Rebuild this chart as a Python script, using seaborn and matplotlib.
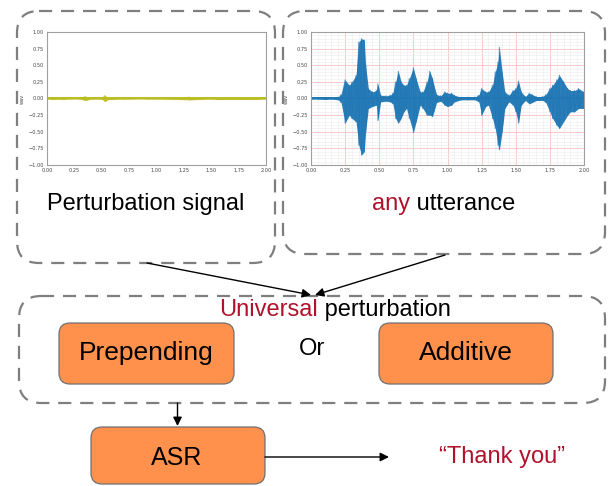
import matplotlib
matplotlib.use("Agg")
import matplotlib.pyplot as plt
from matplotlib.patches import FancyBboxPatch
from matplotlib.ticker import MultipleLocator, FuncFormatter
import seaborn as sns
import numpy as np

# waveform envelopes (time in s, amplitude)
utt_t = [0.00, 0.05, 0.10, 0.15, 0.20, 0.22, 0.25, 0.28, 0.30, 0.33, 0.35, 0.37, 0.39, 0.40,
         0.42, 0.45, 0.48, 0.49, 0.51, 0.55, 0.58, 0.60, 0.62, 0.64, 0.66, 0.68, 0.70, 0.72,
         0.75, 0.77, 0.80, 0.82, 0.85, 0.87, 0.89, 0.90, 0.92, 0.95, 0.98, 1.00, 1.03, 1.05,
         1.10, 1.15, 1.20, 1.23, 1.25, 1.28, 1.30, 1.33, 1.35, 1.37, 1.38, 1.40, 1.42, 1.45,
         1.48, 1.50, 1.52, 1.54, 1.57, 1.60, 1.62, 1.65, 1.70, 1.72, 1.75, 1.77, 1.80, 1.82,
         1.85, 1.88, 1.90, 1.93, 1.96, 2.00]
utt_up = [0.01, 0.01, 0.015, 0.01, 0.02, 0.06, 0.28, 0.20, 0.25, 0.35, 0.85, 0.90, 0.88, 0.50,
          0.15, 0.10, 0.12, 0.22, 0.05, 0.04, 0.05, 0.08, 0.25, 0.41, 0.25, 0.20, 0.20, 0.30,
          0.46, 0.30, 0.10, 0.10, 0.25, 0.41, 0.30, 0.20, 0.06, 0.04, 0.10, 0.08, 0.08, 0.05,
          0.02, 0.02, 0.02, 0.05, 0.15, 0.10, 0.10, 0.20, 0.40, 0.55, 0.77, 0.40, 0.10, 0.05,
          0.12, 0.15, 0.26, 0.10, 0.03, 0.08, 0.06, 0.03, 0.03, 0.06, 0.15, 0.20, 0.28, 0.35,
          0.25, 0.15, 0.12, 0.12, 0.15, 0.10]
utt_lo = [-0.01, -0.01, -0.015, -0.01, -0.02, -0.06, -0.37, -0.25, -0.30, -0.35, -0.70, -0.85, -0.80, -0.50,
          -0.15, -0.12, -0.10, -0.33, -0.05, -0.04, -0.05, -0.08, -0.30, -0.37, -0.30, -0.20, -0.15, -0.30,
          -0.51, -0.35, -0.10, -0.15, -0.25, -0.25, -0.27, -0.20, -0.06, -0.04, -0.10, -0.12, -0.10, -0.05,
          -0.02, -0.02, -0.02, -0.05, -0.25, -0.12, -0.10, -0.30, -0.45, -0.70, -0.77, -0.50, -0.15, -0.05,
          -0.10, -0.20, -0.37, -0.10, -0.03, -0.08, -0.06, -0.03, -0.03, -0.06, -0.20, -0.30, -0.40, -0.45,
          -0.35, -0.25, -0.20, -0.20, -0.15, -0.15]

pert_t = [0.00, 0.05, 0.10, 0.15, 0.20, 0.30, 0.35, 0.40, 0.50, 0.53, 0.56, 0.70, 0.90, 1.20,
          1.30, 1.50, 1.55, 1.75, 1.90, 2.00]
pert_up = [0.01, 0.015, 0.012, 0.015, 0.008, 0.01, 0.03, 0.01, 0.012, 0.045, 0.015, 0.01, 0.008, 0.015,
           0.02, 0.01, 0.015, 0.015, 0.015, 0.01]
pert_lo = [-v for v in pert_up]

tick_x = [0.00, 0.25, 0.50, 0.75, 1.00, 1.25, 1.50, 1.75, 2.00]
tick_y = [-1.00, -0.75, -0.50, -0.25, 0.00, 0.25, 0.50, 0.75, 1.00]

RED = "#b0122b"
ORANGE = "#ff914d"
GREY = "#7f7f7f"

sns.set_theme(style="white")
plt.rcParams['font.family'] = ['Liberation Sans', 'DejaVu Sans']
plt.rcParams['text.color'] = 'black'

fig = plt.figure(figsize=(6.08, 4.86), dpi=100)
ax = fig.add_axes([0, 0, 1, 1])
ax.set_xlim(0, 608)
ax.set_ylim(486, 0)
ax.axis('off')


def rbox(x0, y0, x1, y1, r, **kw):
    ax.add_patch(FancyBboxPatch((x0, y0), x1 - x0, y1 - y0,
                                boxstyle=f"round,pad=0,rounding_size={r}", **kw))


dash = dict(fill=False, edgecolor=GREY, linewidth=1.6, linestyle=(0, (5.9, 4)))
rbox(17, 11, 275, 263, 22, **dash)
rbox(283, 11, 605, 254, 22, **dash)
rbox(19, 296, 605, 403, 22, **dash)

orange = dict(facecolor=ORANGE, edgecolor="#707070", linewidth=0.9)
rbox(59, 323, 234, 384, 11, **orange)
rbox(379, 323, 553, 384, 11, **orange)
rbox(91, 427, 265, 484, 11, **orange)

fs = 17
ax.text(146, 204, "Perturbation signal", fontsize=fs, ha='center', va='center')
ax.text(410, 204, "any", fontsize=fs, ha='right', va='center', color=RED)
ax.text(410, 204, " utterance", fontsize=fs, ha='left', va='center')
ax.text(318, 310, "Universal", fontsize=fs, ha='right', va='center', color=RED)
ax.text(318, 310, " perturbation", fontsize=fs, ha='left', va='center')
ax.text(146, 353, "Prepending", fontsize=19, ha='center', va='center')
ax.text(466, 353, "Additive", fontsize=19, ha='center', va='center')
ax.text(312, 349, "Or", fontsize=fs, ha='center', va='center')
ax.text(177, 458, "ASR", fontsize=18, ha='center', va='center')
ax.text(502, 457, "\u201cThank you\u201d", fontsize=fs, ha='center', va='center', color=RED)

arrow = dict(arrowstyle='-|>', color='black', lw=1.0, mutation_scale=13,
             shrinkA=0, shrinkB=0)
ax.annotate("", xy=(311, 295), xytext=(147, 263), arrowprops=arrow)
ax.annotate("", xy=(315, 295), xytext=(445, 255), arrowprops=arrow)
ax.annotate("", xy=(177.5, 426), xytext=(177.5, 403), arrowprops=arrow)
ax.annotate("", xy=(389, 457), xytext=(265, 457), arrowprops=arrow)

fmt = FuncFormatter(lambda v, p: f"{v:.2f}".replace('-', '\u2212'))


def wave_axes(rect, t, up, lo, color, grid):
    a = fig.add_axes(rect)
    a.set_xlim(0, 2)
    a.set_ylim(-1, 1)
    a.set_xticks(tick_x)
    a.set_yticks(tick_y)
    a.xaxis.set_major_formatter(fmt)
    a.yaxis.set_major_formatter(fmt)
    a.tick_params(labelsize=3.6, length=0, pad=2, colors="#444444")
    a.set_ylabel("wav", fontsize=3.6, labelpad=3, color="#444444",
                 family=['DejaVu Sans'])
    for lab in a.get_xticklabels() + a.get_yticklabels():
        lab.set_family('DejaVu Sans')
    for s in a.spines.values():
        s.set_color("#a0a0a0")
        s.set_linewidth(0.8)
    if grid:
        a.xaxis.set_minor_locator(MultipleLocator(0.05))
        a.yaxis.set_minor_locator(MultipleLocator(0.05))
        a.grid(which='minor', color="#ececec", linewidth=0.4)
        a.grid(which='major', color="#f6c2c2", linewidth=0.6)
        a.set_axisbelow(True)
    else:
        a.grid(False)
    a.fill_between(t, lo, up, color=color, linewidth=0, alpha=0.95)
    zx = np.repeat(t, 2)
    zy = np.column_stack([up, lo]).ravel()
    sns.lineplot(x=zx, y=zy, ax=a, color=color, lw=0.8, alpha=0.7,
                 estimator=None, sort=False)
    a.plot(t, [0] * len(t), color=color, lw=1.4)
    return a


wave_axes([47 / 608, 1 - 165 / 486, 219 / 608, 133 / 486], pert_t, pert_up, pert_lo,
          "#bcbd22", False)
wave_axes([311 / 608, 1 - 165 / 486, 273 / 608, 133 / 486], utt_t, utt_up, utt_lo,
          "#1f77b4", True)

fig.savefig("out.png", dpi=100)
